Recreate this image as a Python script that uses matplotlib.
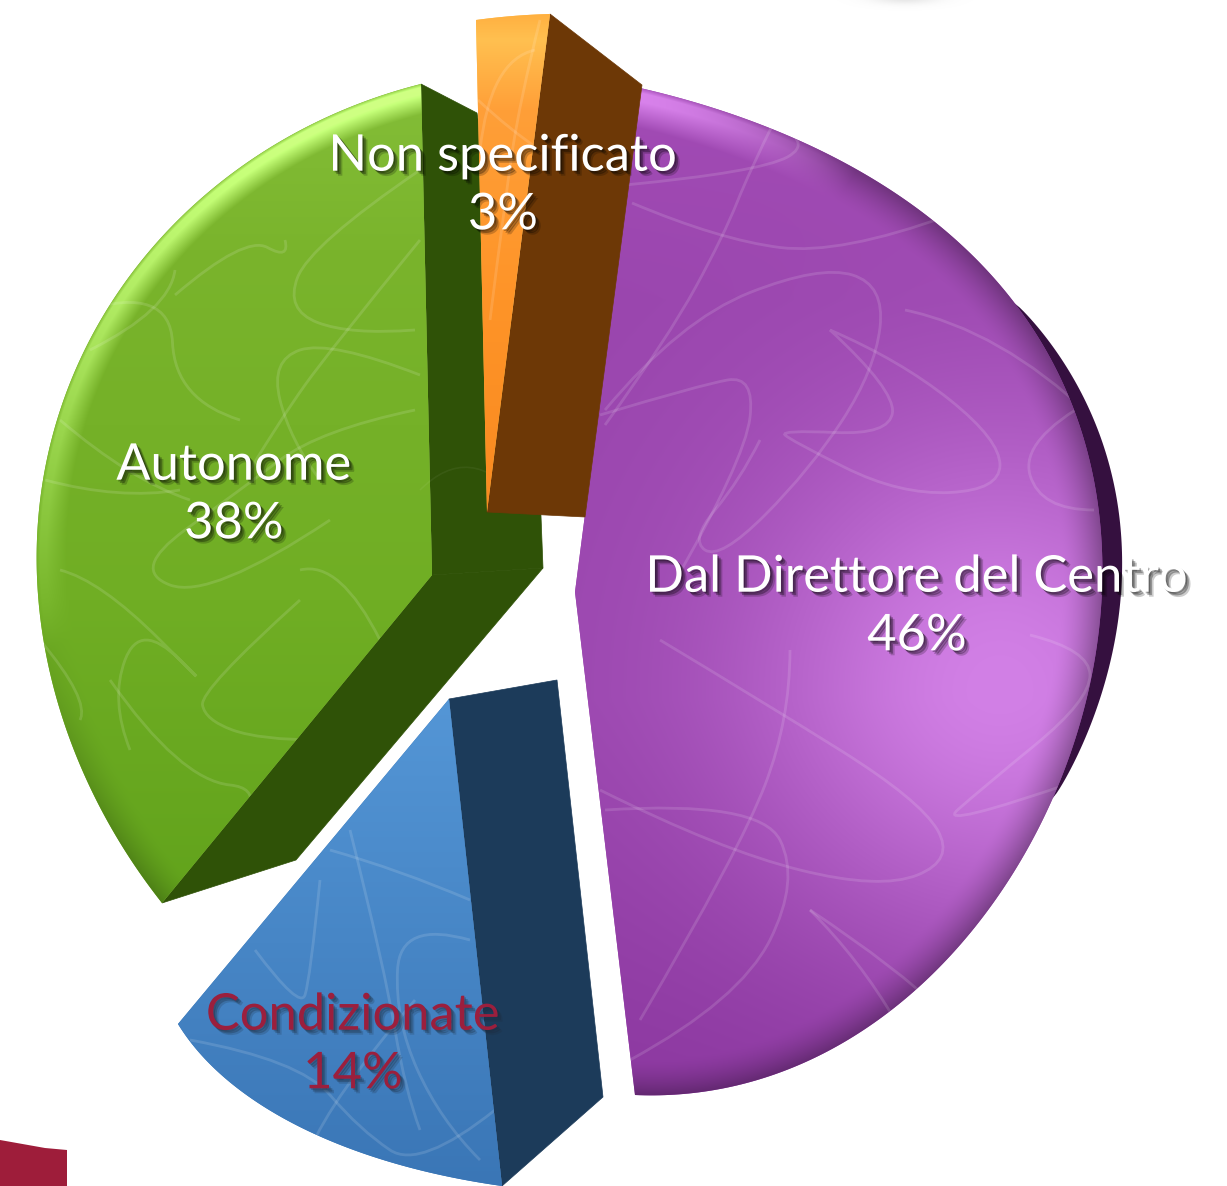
import numpy as np
import matplotlib
matplotlib.use("Agg")
import matplotlib.pyplot as plt
import matplotlib.patheffects as pe
from matplotlib.patches import Polygon, PathPatch
from matplotlib.path import Path

labels = ["Dal Direttore del Centro", "Condizionate", "Autonome", "Non specificato"]
shares = [46, 14, 38, 3]
label_colors = ["white", "#9b1f3d", "white", "white"]
label_pos = [(917, 607), (353, 1045), (234, 495), (503, 186)]

W, H = 1227, 1186
start_angle = 4.0

# where each slice sits in the exploded view: apex, then evenly spaced points on its arc
apex = [(575, 592), (449, 699), (432, 575), (487, 512)]
arc_pts = [
    [(640, 88), (980, 263), (1102, 590), (960, 945), (635, 1095)],
    [(502, 1186), (300, 1127), (178, 1024)],
    [(162, 903), (57, 700), (43, 480), (152, 248), (421, 84)],
    [(550, 14), (513, 16), (476, 20)],
]
walls = [
    None,
    [[(449, 699), (557, 680), (603, 1097), (502, 1186)]],
    [[(421, 84), (477, 113), (540, 490), (543, 568), (432, 575)],
     [(432, 575), (543, 568), (296, 860), (162, 903)]],
    [[(550, 14), (642, 85), (585, 517), (487, 512)]],
]
wall_colors = [None, "#1c3b5a", "#2f5207", "#6d3806"]

# y stops / colours of every face
face_y = [
    [90, 300, 700, 1095],
    [700, 1186],
    [85, 250, 600, 900],
    [14, 40, 110, 300, 512],
]
face_rgb = [
    ["#a24bb5", "#9a46ae", "#9a46ae", "#8c38a0"],
    ["#5496d6", "#3a76b6"],
    ["#84be38", "#7ab42c", "#70ae24", "#62a31c"],
    ["#ffb040", "#ffc050", "#ff9f38", "#fe9428", "#f98a20"],
]

scribbles = [
    [
        [(632, 203), (720, 240), (840, 255), (950, 215)],
        [(775, 120), (750, 170), (724, 235), (668, 338), (605, 425)],
        [(772, 122), (815, 142), (760, 172), (625, 185)],
        [(605, 410), (680, 320), (820, 265), (885, 285), (875, 370), (810, 470), (720, 560), (690, 540), (740, 480), (760, 440)],
        [(600, 415), (700, 385), (755, 375), (745, 460), (670, 590)],
        [(830, 330), (900, 360), (1000, 440), (1000, 490), (900, 495), (790, 440), (780, 430), (890, 435), (895, 390), (830, 330)],
        [(905, 310), (1000, 330), (1090, 415)],
        [(1092, 400), (1020, 440), (1040, 510), (1094, 510)],
        [(660, 640), (760, 700), (920, 800), (955, 860), (880, 890), (720, 850), (600, 790)],
        [(605, 810), (760, 800), (800, 880), (740, 1000), (630, 1060)],
        [(790, 650), (790, 720), (740, 850), (640, 1020)],
        [(1030, 635), (1090, 650), (1090, 700), (980, 790), (935, 830), (1080, 780)],
        [(810, 910), (900, 970), (940, 1010)],
        [(810, 910), (860, 960), (895, 1020)],
    ],
    [
        [(330, 850), (400, 870), (470, 900)],
        [(350, 830), (385, 970), (405, 1090), (420, 1130)],
        [(255, 950), (300, 1010), (310, 980), (320, 880)],
        [(470, 940), (400, 920), (395, 1020), (440, 1120), (480, 1160)],
        [(415, 1000), (330, 1100), (310, 1150)],
        [(190, 1040), (300, 1060), (360, 1130), (420, 1170), (495, 1110)],
    ],
    [
        [(175, 295), (245, 235), (290, 260), (285, 240)],
        [(420, 170), (310, 245), (285, 310), (350, 335), (415, 330)],
        [(420, 240), (330, 350), (280, 420), (250, 470)],
        [(85, 310), (170, 285), (175, 400), (240, 420)],
        [(175, 270), (170, 310), (90, 350)],
        [(420, 375), (330, 340), (270, 360), (290, 440), (320, 480)],
        [(415, 410), (320, 430), (240, 490), (130, 570), (210, 600), (330, 520)],
        [(60, 420), (130, 480), (190, 500)],
        [(45, 480), (120, 500), (180, 490)],
        [(60, 570), (100, 580), (220, 700), (140, 620), (110, 700), (130, 750)],
        [(300, 600), (200, 690), (205, 720), (260, 740), (320, 740)],
        [(110, 680), (180, 780), (280, 790), (210, 860)],
        [(300, 570), (340, 560), (380, 640)],
        [(40, 640), (90, 700), (80, 720)],
    ],
    [
        [(540, 20), (520, 100), (505, 200), (490, 320)],
        [(478, 100), (510, 130), (540, 150)],
        [(535, 50), (490, 60), (480, 150)],
    ],
]
wall_scribbles = [
    [(470, 740), (500, 900), (520, 1000), (560, 1130)],
    [(560, 900), (520, 840), (470, 830)],
    [(420, 490), (470, 440), (520, 500)],
    [(640, 150), (590, 250), (520, 350), (490, 480)],
]

fig = plt.figure(figsize=(W / 100, H / 100), dpi=100, facecolor="white")
ax = fig.add_axes([0, 0, 1, 1])
ax.set_xlim(0, W)
ax.set_ylim(H, 0)
ax.axis("off")

xx, yy = np.meshgrid(np.arange(W) + 0.5, np.arange(H) + 0.5)


def hex_rgb(c):
    return np.array(matplotlib.colors.to_rgb(c))


def smooth(pts):
    # quadratic spline through the control points
    pts = np.array(pts, dtype=float)
    if len(pts) < 3:
        return Path(pts)
    verts = [pts[0]]
    codes = [Path.MOVETO]
    for i in range(1, len(pts) - 1):
        end = pts[i + 1] if i == len(pts) - 2 else (pts[i] + pts[i + 1]) / 2
        verts += [pts[i], end]
        codes += [Path.CURVE3, Path.CURVE3]
    return Path(verts, codes)


def basis(t, n):
    cols = [np.sin(t), np.cos(t), np.ones_like(t)]
    if n == 5:
        cols += [np.sin(2 * t), np.cos(2 * t)]
    return np.stack(cols, axis=1)


def shade(i, t, arc):
    rgb = np.stack([np.interp(yy, face_y[i], [hex_rgb(c)[k] for c in face_rgb[i]]) for k in range(3)], axis=-1)
    if i == 0:
        # light patch low on the right of the big slice
        glow = np.exp(-(((xx - 1000) / 250) ** 2 + ((yy - 690) / 260) ** 2))
        rgb = rgb + glow[..., None] * (hex_rgb("#d280e6") - hex_rgb("#9a46ae"))
    if i in (0, 2):
        # bevel along the rim, measured against the real outline
        coef = np.linalg.lstsq(basis(t, 3), arc, rcond=None)[0]
        inv = np.linalg.inv(coef[:2].T)
        dx, dy = xx - coef[2, 0], yy - coef[2, 1]
        su = inv[0, 0] * dx + inv[0, 1] * dy
        cu = inv[1, 0] * dx + inv[1, 1] * dy
        a_su = inv[0, 0] * (arc[:, 0] - coef[2, 0]) + inv[0, 1] * (arc[:, 1] - coef[2, 1])
        a_cu = inv[1, 0] * (arc[:, 0] - coef[2, 0]) + inv[1, 1] * (arc[:, 1] - coef[2, 1])
        ang = np.arctan2(a_su, a_cu) % (2 * np.pi)
        order = np.argsort(ang)
        edge = np.interp(np.arctan2(su, cu) % (2 * np.pi), ang[order], np.hypot(a_su, a_cu)[order])
        rho = np.hypot(su, cu) / edge
        cu_n = cu / np.maximum(np.hypot(su, cu), 1e-6)
        band = np.clip((rho - 0.925) / 0.05, 0, 1) * np.clip((1.0 - rho) / 0.012 + 0.25, 0, 1)
        dark = np.clip((rho - 0.925) / 0.075, 0, 1) ** 1.6
        if i == 0:
            light = np.clip((cu_n - 0.88) / 0.12, 0, 1) * 0.22
            dim = np.clip(1.0 - np.clip((cu_n - 0.88) / 0.12, 0, 1), 0, 1) * 0.3
        else:
            light = np.clip(0.15 + 0.9 * cu_n, 0, 1) * 0.3
            dim = np.clip(-cu_n - 0.05, 0, 1) * 0.3
        rgb = rgb + (band * light)[..., None]
        rgb = rgb * (1 - dark * dim)[..., None]
    return np.clip(rgb, 0, 1)


sweeps = np.array(shares) / np.sum(shares) * 360
edges = start_angle + np.concatenate([[0], np.cumsum(sweeps)])

# crimson leftover from the slide and the faint smudge on top
ax.add_patch(Polygon([(0, 1140), (45, 1148), (67, 1150), (67, H), (0, H)], fc="#9e1d3a", ec="none", zorder=1))
smudge = np.zeros((H, W, 4))
smudge[..., :3] = 0.75
smudge[..., 3] = 0.4 * np.exp(-(((xx - 905) / 32) ** 2 + ((yy + 2) / 6) ** 2))
ax.imshow(smudge, extent=(0, W, H, 0), zorder=1, aspect="auto")

z_order = {2: 2, 1: 3, 0: 4, 3: 6}
for i in [2, 1, 0, 3]:
    n = len(arc_pts[i])
    knots = np.radians(np.linspace(edges[i], edges[i + 1], n))
    coef = np.linalg.solve(basis(knots, n), np.array(arc_pts[i], dtype=float))
    t = np.radians(np.linspace(edges[i], edges[i + 1], 300))
    arc = basis(t, n) @ coef
    z = z_order[i] * 10

    if walls[i] is not None:
        for w in walls[i]:
            ax.add_patch(Polygon(w, fc=wall_colors[i], ec=wall_colors[i], lw=0.5, zorder=z))
    if i == 0:
        # thin dark rim on the right of the big slice
        k = (arc[:, 0] > 1000) & (arc[:, 1] > 300) & (arc[:, 1] < 800)
        a = arc[k]
        w = 20 * np.sin(np.pi * np.linspace(0, 1, len(a))) ** 0.7
        rim = np.r_[a - [6, 0], (a + np.c_[w, np.zeros(len(a))])[::-1]]
        ax.add_patch(Polygon(rim, fc="#35103f", ec="none", zorder=z))

    outline = np.r_[[apex[i]], arc]
    face = Polygon(outline, fc=face_rgb[i][1], ec="none", zorder=z + 1)
    ax.add_patch(face)
    im = ax.imshow(shade(i, t, arc), extent=(0, W, H, 0), zorder=z + 2, aspect="auto")
    im.set_clip_path(face)
    for s in scribbles[i]:
        p = PathPatch(smooth(s), fc="none", ec="white", lw=2.0, alpha=0.13, zorder=z + 3)
        ax.add_patch(p)
        p.set_clip_path(face)

for s in wall_scribbles:
    ax.add_patch(PathPatch(smooth(s), fc="none", ec="white", lw=1.2, alpha=0.05, zorder=25))

ax.set_xlim(0, W)
ax.set_ylim(H, 0)

for lab, share, col, pos in zip(labels, shares, label_colors, label_pos):
    shadow = "#1c2a3a" if col != "white" else "black"
    ax.text(pos[0], pos[1], f"{lab}\n{share}%", color=col, ha="center", va="center",
            family="Lato", fontsize=36.5, linespacing=1.34, zorder=100,
            path_effects=[pe.SimplePatchShadow(offset=(1.2, -1.2), shadow_rgbFace=shadow, alpha=0.3),
                          pe.SimplePatchShadow(offset=(2.4, -2.4), shadow_rgbFace=shadow, alpha=0.3),
                          pe.SimplePatchShadow(offset=(3.6, -3.6), shadow_rgbFace=shadow, alpha=0.2),
                          pe.Normal()])

fig.savefig("out.png", dpi=100, facecolor="white")
